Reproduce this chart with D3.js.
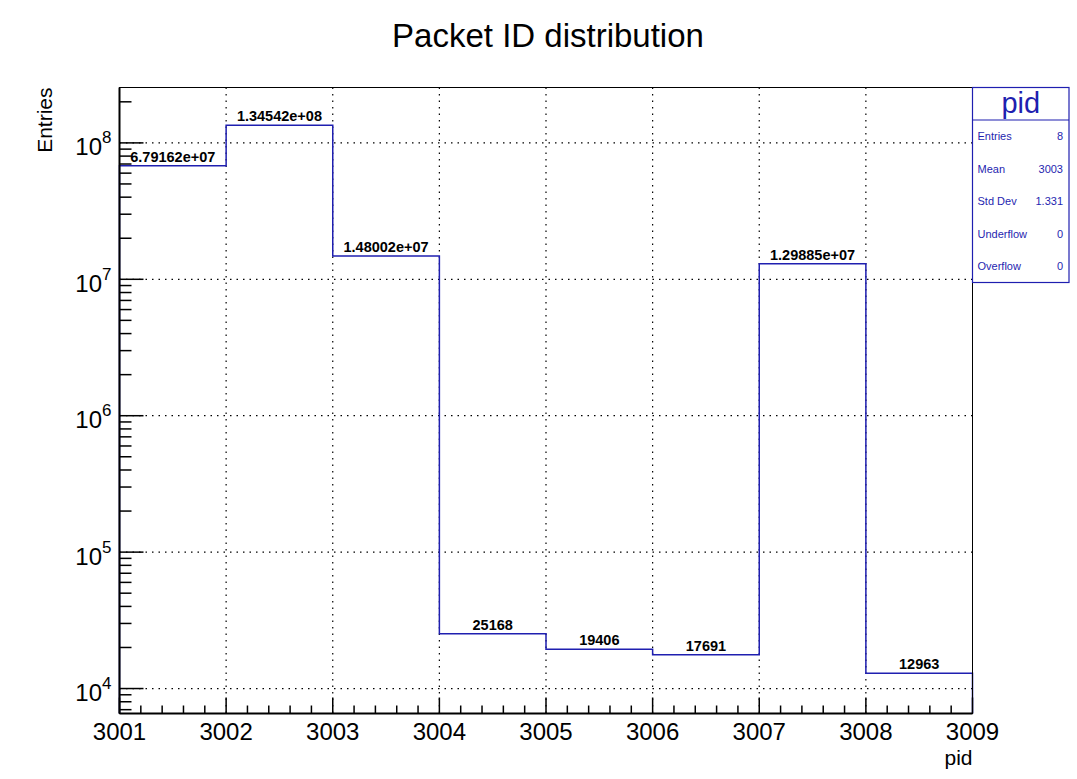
<!DOCTYPE html>
<html>
<head>
<meta charset="utf-8">
<script src="https://cdn.jsdelivr.net/npm/d3@7"></script>
<style>
  body { margin: 0; background: #fff; }
  svg { display: block; font-family: "Liberation Sans", Arial, Helvetica, sans-serif; }
</style>
</head>
<body>
<svg id="chart" width="1077" height="779"></svg>
<script>
// Histogram of packet IDs (bin low edges and entry counts)
const binEdges = [3001, 3002, 3003, 3004, 3005, 3006, 3007, 3008, 3009];
const counts = [6.79162e7, 1.34542e8, 1.48002e7, 25168, 19406, 17691, 1.29885e7, 12963];
const countLabels = ["6.79162e+07", "1.34542e+08", "1.48002e+07", "25168", "19406", "17691", "1.29885e+07", "12963"];
const xTickValues = [3001, 3002, 3003, 3004, 3005, 3006, 3007, 3008, 3009];
const yDecades = [4, 5, 6, 7, 8];
const statsNames = ["Entries", "Mean", "Std Dev", "Underflow", "Overflow"];
const statsValues = ["8", "3003", "1.331", "0", "0"];

const svg = d3.select("#chart");
const frame = { left: 119.5, right: 972.5, top: 87.5, bottom: 713.5 };
const lineBlue = "#1f1fb0";

const x = d3.scaleLinear().domain([3001, 3009]).range([frame.left, frame.right]);
const y = d3.scaleLog().domain([Math.pow(10, 3.817), Math.pow(10, 8.406)]).range([frame.bottom, frame.top]);

// Title
svg.append("text").attr("x", 548).attr("y", 47).attr("text-anchor", "middle")
  .attr("font-size", 33).text("Packet ID distribution");

// Dotted grid
const grid = svg.append("g").attr("stroke", "#000").attr("stroke-width", 1.2)
  .attr("stroke-dasharray", "1.5,5");
xTickValues.slice(1, -1).forEach(v => {
  grid.append("line").attr("x1", x(v)).attr("x2", x(v)).attr("y1", frame.top).attr("y2", frame.bottom);
});
yDecades.forEach(d => {
  const yy = y(Math.pow(10, d));
  grid.append("line").attr("x1", frame.left).attr("x2", frame.right).attr("y1", yy).attr("y2", yy);
});

// Histogram outline (step)
let pathData = [];
counts.forEach((c, i) => {
  pathData.push([x(binEdges[i]), y(c)]);
  pathData.push([x(binEdges[i + 1]), y(c)]);
});
const stepPath = "M" + x(binEdges[0]) + "," + frame.bottom + "L" +
  pathData.map(p => p.join(",")).join("L") + "L" + x(binEdges[binEdges.length - 1]) + "," + frame.bottom;
svg.append("path").attr("d", stepPath).attr("fill", "none")
  .attr("stroke", lineBlue).attr("stroke-width", 1.5);

// Bin value labels
counts.forEach((c, i) => {
  svg.append("text")
    .attr("x", (x(binEdges[i]) + x(binEdges[i + 1])) / 2)
    .attr("y", y(c) - 4)
    .attr("text-anchor", "middle")
    .attr("font-size", 14.5).attr("font-weight", "bold")
    .text(countLabels[i]);
});

// Frame
svg.append("rect").attr("x", frame.left).attr("y", frame.top)
  .attr("width", frame.right - frame.left).attr("height", frame.bottom - frame.top)
  .attr("fill", "none").attr("stroke", "#000").attr("stroke-width", 1);

// X axis: major + minor ticks drawn upward from the bottom
const xAxisG = svg.append("g").attr("stroke", "#000").attr("stroke-width", 1.5);
xTickValues.forEach((v, i) => {
  xAxisG.append("line").attr("x1", x(v)).attr("x2", x(v))
    .attr("y1", frame.bottom).attr("y2", frame.bottom - 16);
  if (i < xTickValues.length - 1) {
    [0.2, 0.4, 0.6, 0.8].forEach(f => {
      xAxisG.append("line").attr("x1", x(v + f)).attr("x2", x(v + f))
        .attr("y1", frame.bottom).attr("y2", frame.bottom - 8);
    });
  }
});
xAxisG.append("line").attr("x1", frame.left).attr("x2", frame.right)
  .attr("y1", frame.bottom).attr("y2", frame.bottom).attr("stroke-width", 2);

svg.append("g").selectAll("text").data(xTickValues).join("text")
  .attr("x", d => x(d)).attr("y", frame.bottom + 26.5)
  .attr("text-anchor", "middle").attr("font-size", 24).text(d => d);

// Y axis: log ticks
const yAxisG = svg.append("g").attr("stroke", "#000").attr("stroke-width", 1.5);
const [yLo, yHi] = y.domain();
for (let d = 3; d <= 8; d++) {
  for (let m = 1; m <= 9; m++) {
    const v = m * Math.pow(10, d);
    if (v < yLo || v > yHi) continue;
    const len = m === 1 ? 24 : 12;
    yAxisG.append("line").attr("x1", frame.left).attr("x2", frame.left + len)
      .attr("y1", y(v)).attr("y2", y(v));
  }
}
yAxisG.append("line").attr("x1", frame.left).attr("x2", frame.left)
  .attr("y1", frame.top).attr("y2", frame.bottom).attr("stroke-width", 2);

yDecades.forEach(d => {
  const t = svg.append("text").attr("x", frame.left - 8).attr("y", y(Math.pow(10, d)) + 12.5)
    .attr("text-anchor", "end").attr("font-size", 24);
  t.append("tspan").text("10");
  t.append("tspan").attr("font-size", 17).attr("dy", -12).text(d);
});

// Axis titles
svg.append("text").attr("transform", `translate(52,${frame.top}) rotate(-90)`)
  .attr("text-anchor", "end").attr("font-size", 21).text("Entries");
svg.append("text").attr("x", frame.right).attr("y", 765)
  .attr("text-anchor", "end").attr("font-size", 21).text("pid");

// Statistics box
const box = { x: 972.5, y: 87.5, w: 96.5, h: 195, header: 32.5 };
const sb = svg.append("g");
sb.append("rect").attr("x", box.x).attr("y", box.y).attr("width", box.w).attr("height", box.h)
  .attr("fill", "#fff").attr("stroke", lineBlue).attr("stroke-width", 1.2);
sb.append("line").attr("x1", box.x).attr("x2", box.x + box.w)
  .attr("y1", box.y + box.header).attr("y2", box.y + box.header)
  .attr("stroke", lineBlue).attr("stroke-width", 1.2);
sb.append("text").attr("x", box.x + box.w / 2).attr("y", box.y + 25)
  .attr("text-anchor", "middle").attr("font-size", 29).attr("fill", lineBlue).text("pid");
const rowStep = (box.h - box.header) / statsNames.length;
statsNames.forEach((name, i) => {
  const yy = box.y + box.header + rowStep * (i + 0.5) + 4;
  sb.append("text").attr("x", box.x + 5).attr("y", yy).attr("font-size", 11)
    .attr("fill", lineBlue).text(name);
  sb.append("text").attr("x", box.x + box.w - 6).attr("y", yy).attr("font-size", 11)
    .attr("text-anchor", "end").attr("fill", lineBlue).text(statsValues[i]);
});
</script>
</body>
</html>
